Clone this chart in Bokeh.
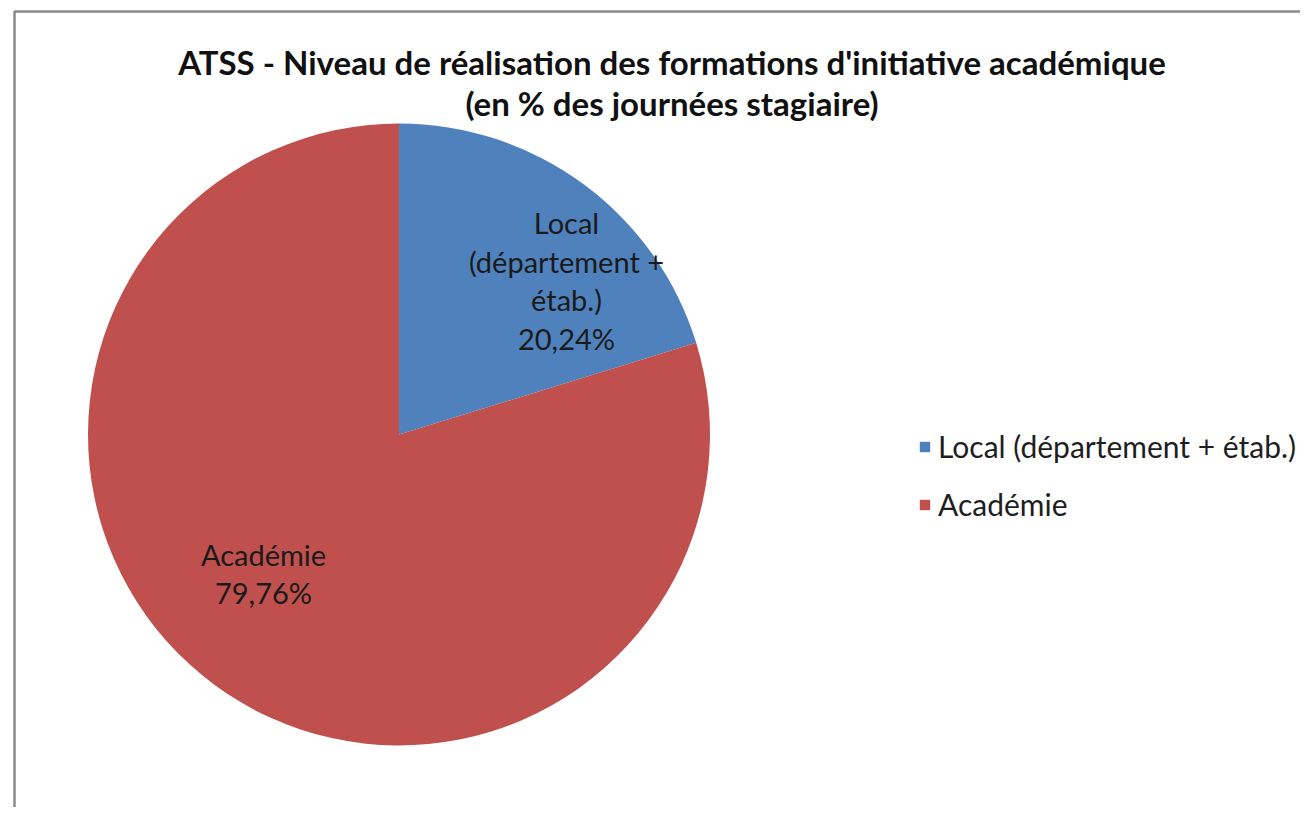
from bokeh.plotting import figure
from bokeh.models import Range1d, BoxAnnotation, Legend, LegendItem, ColumnDataSource
from bokeh.core.properties import value
from bokeh.embed import file_html
from bokeh.resources import INLINE
import math

# ---- data ----
categories = ["Local (département + étab.)", "Académie"]
shares = [20.24, 79.76]
slice_labels = ["Local\n(département +\nétab.)\n20,24%", "Académie\n79,76%"]
colors = ["#4F81BD", "#C0504D"]
title_lines = ["ATSS - Niveau de réalisation des formations d'initiative académique",
               "(en % des journées stagiaire)"]

# ---- layout (screen pixel coords; data y = H - screen y) ----
W, H = 1300, 807
def Y(py):
    return H - py

cx, cy, rad = 398.5, Y(434), 311
label_pos = [(566, 280), (263, 573)]
FONT = "Lato"

p = figure(width=W, height=H, output_backend="svg", toolbar_location=None,
           x_range=Range1d(0, W), y_range=Range1d(0, H),
           min_border=0, min_border_left=0, min_border_right=0,
           min_border_top=0, min_border_bottom=0)
p.axis.visible = False
p.grid.visible = False
p.outline_line_color = None
p.background_fill_color = "white"
p.border_fill_color = "white"

# frame of the chart area
p.add_layout(BoxAnnotation(left=14, right=1500, top=Y(11), bottom=-200,
                           fill_alpha=0, line_color="#8a8a8a", line_alpha=1.0,
                           line_width=2.5))

total = sum(shares)
starts, ends = [], []
cum = 0.0
for s in shares:
    starts.append(math.pi / 2 - 2 * math.pi * cum / total)
    cum += s
    ends.append(math.pi / 2 - 2 * math.pi * cum / total)

items = []
for i, cat in enumerate(categories):
    src = ColumnDataSource(dict(x=[cx], y=[cy], r=[rad], s=[starts[i]], e=[ends[i]]))
    rnd = p.wedge(x="x", y="y", radius="r", start_angle="s", end_angle="e",
                  direction="clock", source=src, fill_color=colors[i], line_color=None)
    items.append(LegendItem(label=cat, renderers=[rnd]))

# slice labels
p.text(x=[lp[0] for lp in label_pos], y=[Y(lp[1]) for lp in label_pos], text=slice_labels,
       text_font=value(FONT), text_font_size="29px", text_color="#1a1a1a",
       text_align="center", text_baseline="middle", text_line_height=1.11)

# title
p.text(x=[671.5, 671.5], y=[Y(61), Y(102)], text=title_lines,
       text_font=value(FONT), text_font_size="33px", text_font_style="bold",
       text_color="#111111", text_align="center", text_baseline="middle")

legend = Legend(items=items, location=(918, 285), orientation="vertical",
                glyph_width=13, glyph_height=13, label_height=32, spacing=22,
                label_standoff=7, padding=0, margin=0,
                border_line_color=None, background_fill_alpha=0,
                label_text_font=FONT, label_text_font_size="30px",
                label_text_color="#1e1e1e")
p.add_layout(legend)

open("out.html", "w").write(file_html(p, INLINE))
